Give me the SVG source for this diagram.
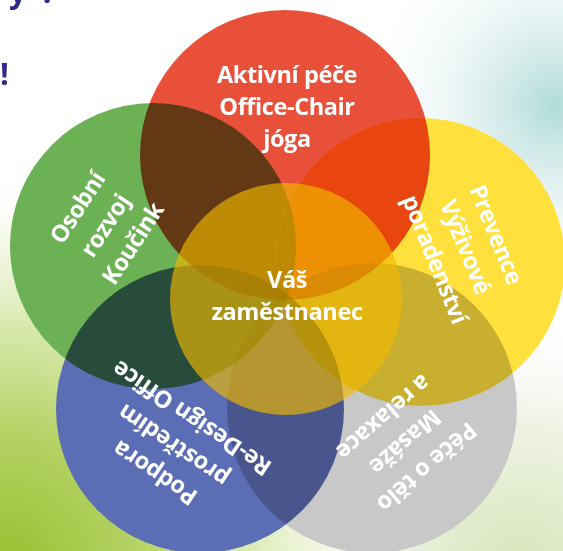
<svg xmlns="http://www.w3.org/2000/svg" width="563" height="551" viewBox="0 0 563 551">
  <defs>
    <radialGradient id="bgTeal" cx="555" cy="105" r="190" gradientUnits="userSpaceOnUse">
      <stop offset="0" stop-color="#A6D7D3" stop-opacity="0.9"/>
      <stop offset="0.25" stop-color="#C0E2DF" stop-opacity="0.75"/>
      <stop offset="0.65" stop-color="#E2F1F1" stop-opacity="0.45"/>
      <stop offset="1" stop-color="#F4FAFA" stop-opacity="0"/>
    </radialGradient>
    <radialGradient id="bgGreen" cx="0" cy="570" r="400" gradientUnits="userSpaceOnUse">
      <stop offset="0" stop-color="#95C02C"/>
      <stop offset="0.35" stop-color="#B5D266"/>
      <stop offset="0.6" stop-color="#D2E5A0" stop-opacity="0.9"/>
      <stop offset="0.85" stop-color="#EEF5DC" stop-opacity="0.5"/>
      <stop offset="1" stop-color="#FFFFFF" stop-opacity="0"/>
    </radialGradient>
    <radialGradient id="bgLime" cx="520" cy="570" r="240" gradientUnits="userSpaceOnUse">
      <stop offset="0" stop-color="#D6E3B6"/>
      <stop offset="0.6" stop-color="#E6EDD6" stop-opacity="0.7"/>
      <stop offset="1" stop-color="#F2F5F2" stop-opacity="0"/>
    </radialGradient>
    <style>
      .ring { mix-blend-mode: multiply; }
      .label { font-family: "Open Sans", "Noto Sans", "Liberation Sans", sans-serif; font-weight: 700; font-size: 23.5px; letter-spacing: -0.4px; fill: #FFFFFF; text-anchor: middle; }
      .title { font-family: "Open Sans", "Noto Sans", "Liberation Sans", sans-serif; font-weight: 700; font-size: 31px; fill: #2E2A86; }
    </style>
  </defs>

  <!-- background washes -->
  <rect width="563" height="551" fill="#FFFFFF"/>
  <rect width="563" height="551" fill="url(#bgTeal)"/>
  <rect width="563" height="551" fill="url(#bgLime)"/>
  <rect width="563" height="551" fill="url(#bgGreen)"/>

  <!-- heading fragments at the top-left edge -->
  <text class="title" x="9" y="3" word-spacing="6">y ?</text>
  <text class="title" x="0" y="85">!</text>

  <!-- outer five circles, multiplied where they overlap -->
  <g id="venn" style="isolation:isolate">
    <g id="node-aktivni-pece"><circle class="ring" cx="285" cy="155" r="145" fill="#E8503A"/></g>
    <g id="node-osobni-rozvoj"><circle class="ring" cx="153" cy="246" r="143" fill="#6DB155"/></g>
    <g id="node-prevence"><circle class="ring" cx="421" cy="262" r="144" fill="#FFE03D"/></g>
    <g id="node-podpora"><circle class="ring" cx="200" cy="409" r="144" fill="#5B6DB4"/></g>
    <g id="node-pece-o-telo"><circle class="ring" cx="372" cy="408" r="145" fill="#C8C8C8"/></g>
  </g>

  <!-- centre circle -->
  <g id="node-vas-zamestnanec">
    <circle cx="286" cy="299" r="116" fill="#F0B800" fill-opacity="0.65"/>
    <text class="label" x="287" y="288">Váš</text>
    <text class="label" x="287" y="320">zaměstnanec</text>
  </g>

  <!-- labels of the outer circles -->
  <g id="labels">
    <g id="label-aktivni-pece">
      <text class="label" x="287" y="83">Aktivní péče</text>
      <text class="label" x="287" y="115">Office-Chair</text>
      <text class="label" x="287" y="147">jóga</text>
    </g>
    <g id="label-osobni-rozvoj" transform="translate(112 230) rotate(-57)">
      <text class="label" x="0" y="-33">Osobní</text>
      <text class="label" x="0" y="0">rozvoj</text>
      <text class="label" x="0" y="33">Koučink</text>
    </g>
    <g id="label-prevence" transform="translate(458 250) rotate(68)">
      <text class="label" x="0" y="-33">Prevence</text>
      <text class="label" x="0" y="0">Výživové</text>
      <text class="label" x="0" y="33">poradenství</text>
    </g>
    <g id="label-podpora" transform="translate(178 439) rotate(214)">
      <text class="label" x="0" y="-33">Podpora</text>
      <text class="label" x="0" y="0">prostředím</text>
      <text class="label" x="0" y="33">Re-Design Office</text>
    </g>
    <g id="label-pece-o-telo" transform="translate(400 436) rotate(139)">
      <text class="label" x="0" y="-33">Péče o tělo</text>
      <text class="label" x="0" y="0">Masáže</text>
      <text class="label" x="0" y="33">a relaxace</text>
    </g>
  </g>
</svg>
